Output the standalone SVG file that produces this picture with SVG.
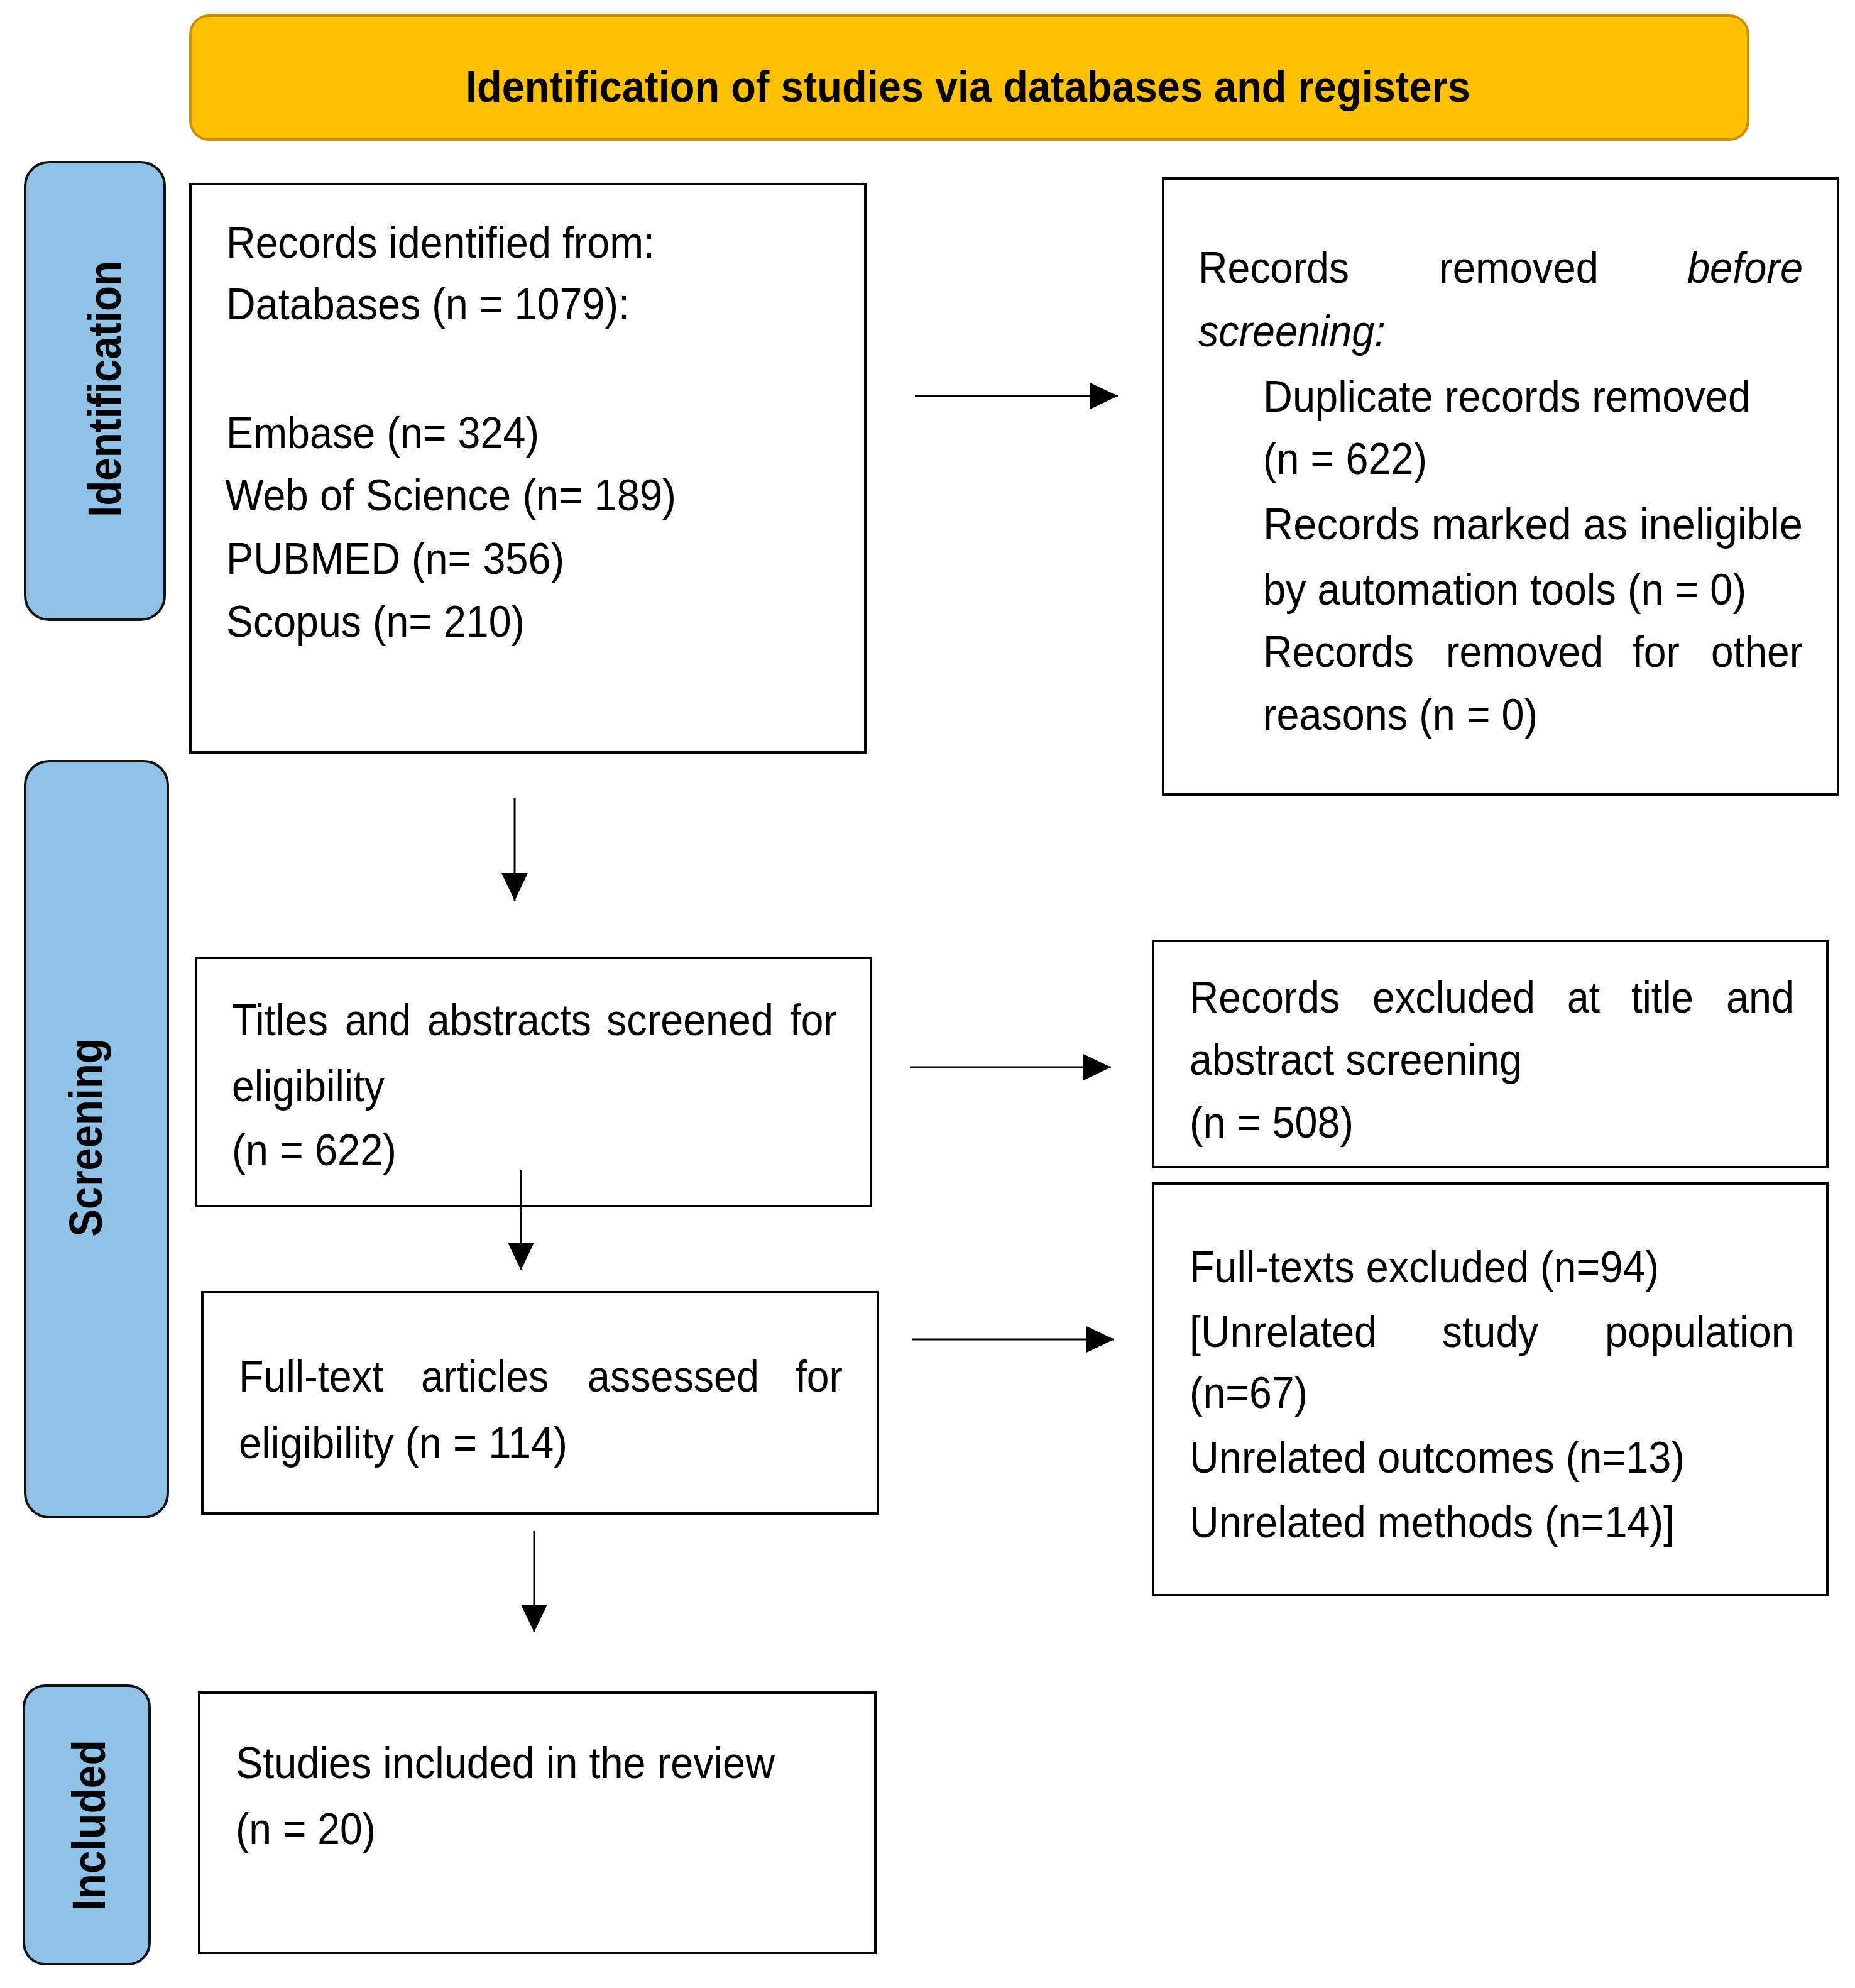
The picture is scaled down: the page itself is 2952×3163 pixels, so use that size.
<svg xmlns="http://www.w3.org/2000/svg" width="2952" height="3163" viewBox="0 0 2952 3163">
<style>
.box{fill:#fff;stroke:#000;stroke-width:4}
.side{fill:#8EC3E7;stroke:#111;stroke-width:4}
.banner{fill:#FFC000;stroke:#CC8E00;stroke-width:4}
text{font-family:"Liberation Sans",Arial,sans-serif;font-size:70px;fill:#000}
.b{font-weight:bold}
.i{font-style:italic}
.lbl{font-weight:bold;font-size:74px}
.conn line{stroke:#000;stroke-width:3;fill:none}
</style>
<defs>
<marker id="ah" markerUnits="userSpaceOnUse" markerWidth="44" markerHeight="42" refX="44" refY="21" orient="auto">
<path d="M0,0 L44,21 L0,42 Z" fill="#000"/>
</marker>
</defs>
<rect width="2952" height="3163" fill="#fff"/>

<g id="banner">
<rect class="banner" x="303" y="25" width="2479" height="197" rx="30"/>
<text class="b" x="741" y="162" textLength="1599" lengthAdjust="spacingAndGlyphs">Identification of studies via databases and registers</text>
</g>

<g id="side-identification">
<rect class="side" x="40" y="258" width="222" height="728" rx="38"/>
<text class="lbl" text-anchor="middle" transform="translate(192,619) rotate(-90)" textLength="408" lengthAdjust="spacingAndGlyphs">Identification</text>
</g>
<g id="side-screening">
<rect class="side" x="40" y="1211" width="227" height="1203" rx="38"/>
<text class="lbl" text-anchor="middle" transform="translate(162,1810) rotate(-90)" textLength="315" lengthAdjust="spacingAndGlyphs">Screening</text>
</g>
<g id="side-included">
<rect class="side" x="38" y="2682" width="200" height="443" rx="34"/>
<text class="lbl" text-anchor="middle" transform="translate(167,2904) rotate(-90)" textLength="272" lengthAdjust="spacingAndGlyphs">Included</text>
</g>

<g id="records-identified">
<rect class="box" x="303" y="293" width="1074" height="904"/>
<text x="360" y="410" textLength="682" lengthAdjust="spacingAndGlyphs">Records identified from:</text>
<text x="360" y="508" textLength="642" lengthAdjust="spacingAndGlyphs">Databases (n = 1079):</text>
<text x="360" y="713" textLength="498" lengthAdjust="spacingAndGlyphs">Embase (n= 324)</text>
<text x="358" y="812" textLength="718" lengthAdjust="spacingAndGlyphs">Web of Science (n= 189)</text>
<text x="360" y="913" textLength="538" lengthAdjust="spacingAndGlyphs">PUBMED (n= 356)</text>
<text x="360" y="1013" textLength="475" lengthAdjust="spacingAndGlyphs">Scopus (n= 210)</text>
</g>

<g id="records-removed">
<rect class="box" x="1851" y="284" width="1074" height="980"/>
<text x="1907" y="450" textLength="240" lengthAdjust="spacingAndGlyphs">Records</text>
<text x="2290" y="450" textLength="254" lengthAdjust="spacingAndGlyphs">removed</text>
<text class="i" x="2685" y="450" textLength="184" lengthAdjust="spacingAndGlyphs">before</text>
<text class="i" x="1907" y="551" textLength="298" lengthAdjust="spacingAndGlyphs">screening:</text>
<text x="2010" y="655" textLength="776" lengthAdjust="spacingAndGlyphs">Duplicate records removed</text>
<text x="2010" y="754" textLength="261" lengthAdjust="spacingAndGlyphs">(n = 622)</text>
<text x="2010" y="858" textLength="859" lengthAdjust="spacingAndGlyphs">Records marked as ineligible</text>
<text x="2010" y="962" textLength="769" lengthAdjust="spacingAndGlyphs">by automation tools (n = 0)</text>
<text x="2010" y="1061" textLength="240" lengthAdjust="spacingAndGlyphs">Records</text>
<text x="2301" y="1061" textLength="250" lengthAdjust="spacingAndGlyphs">removed</text>
<text x="2598" y="1061" textLength="75" lengthAdjust="spacingAndGlyphs">for</text>
<text x="2723" y="1061" textLength="146" lengthAdjust="spacingAndGlyphs">other</text>
<text x="2010" y="1161" textLength="437" lengthAdjust="spacingAndGlyphs">reasons (n = 0)</text>
</g>

<g id="titles-screened">
<rect class="box" x="312" y="1524" width="1074" height="395"/>
<text x="369" y="1647" textLength="153" lengthAdjust="spacingAndGlyphs">Titles</text>
<text x="549" y="1647" textLength="105" lengthAdjust="spacingAndGlyphs">and</text>
<text x="680" y="1647" textLength="261" lengthAdjust="spacingAndGlyphs">abstracts</text>
<text x="965" y="1647" textLength="266" lengthAdjust="spacingAndGlyphs">screened</text>
<text x="1257" y="1647" textLength="75" lengthAdjust="spacingAndGlyphs">for</text>
<text x="369" y="1752" textLength="243" lengthAdjust="spacingAndGlyphs">eligibility</text>
<text x="369" y="1854" textLength="262" lengthAdjust="spacingAndGlyphs">(n = 622)</text>
</g>

<g id="records-excluded">
<rect class="box" x="1835" y="1497" width="1073" height="360"/>
<text x="1893" y="1611" textLength="239" lengthAdjust="spacingAndGlyphs">Records</text>
<text x="2184" y="1611" textLength="259" lengthAdjust="spacingAndGlyphs">excluded</text>
<text x="2494" y="1611" textLength="52" lengthAdjust="spacingAndGlyphs">at</text>
<text x="2596" y="1611" textLength="99" lengthAdjust="spacingAndGlyphs">title</text>
<text x="2747" y="1611" textLength="108" lengthAdjust="spacingAndGlyphs">and</text>
<text x="1893" y="1710" textLength="529" lengthAdjust="spacingAndGlyphs">abstract screening</text>
<text x="1893" y="1810" textLength="261" lengthAdjust="spacingAndGlyphs">(n = 508)</text>
</g>

<g id="fulltext-assessed">
<rect class="box" x="322" y="2056" width="1075" height="352"/>
<text x="380" y="2214" textLength="230" lengthAdjust="spacingAndGlyphs">Full-text</text>
<text x="670" y="2214" textLength="203" lengthAdjust="spacingAndGlyphs">articles</text>
<text x="935" y="2214" textLength="273" lengthAdjust="spacingAndGlyphs">assessed</text>
<text x="1266" y="2214" textLength="75" lengthAdjust="spacingAndGlyphs">for</text>
<text x="380" y="2320" textLength="523" lengthAdjust="spacingAndGlyphs">eligibility (n = 114)</text>
</g>

<g id="fulltext-excluded">
<rect class="box" x="1835" y="1883" width="1073" height="655"/>
<text x="1893" y="2040" textLength="747" lengthAdjust="spacingAndGlyphs">Full-texts excluded (n=94)</text>
<text x="1893" y="2143" textLength="298" lengthAdjust="spacingAndGlyphs">[Unrelated</text>
<text x="2295" y="2143" textLength="153" lengthAdjust="spacingAndGlyphs">study</text>
<text x="2554" y="2143" textLength="301" lengthAdjust="spacingAndGlyphs">population</text>
<text x="1893" y="2240" textLength="188" lengthAdjust="spacingAndGlyphs">(n=67)</text>
<text x="1893" y="2343" textLength="788" lengthAdjust="spacingAndGlyphs">Unrelated outcomes (n=13)</text>
<text x="1893" y="2446" textLength="772" lengthAdjust="spacingAndGlyphs">Unrelated methods (n=14)]</text>
</g>

<g id="studies-included">
<rect class="box" x="317" y="2693" width="1076" height="414"/>
<text x="375" y="2829" textLength="858" lengthAdjust="spacingAndGlyphs">Studies included in the review</text>
<text x="375" y="2934" textLength="223" lengthAdjust="spacingAndGlyphs">(n = 20)</text>
</g>

<g id="connectors" class="conn">
<line x1="1456" y1="630" x2="1779" y2="630" marker-end="url(#ah)"/>
<line x1="819" y1="1270" x2="819" y2="1433" marker-end="url(#ah)"/>
<line x1="1448" y1="1698" x2="1768" y2="1698" marker-end="url(#ah)"/>
<line x1="829" y1="1862" x2="829" y2="2021" marker-end="url(#ah)"/>
<line x1="1452" y1="2131" x2="1773" y2="2131" marker-end="url(#ah)"/>
<line x1="850" y1="2436" x2="850" y2="2597" marker-end="url(#ah)"/>
</g>
</svg>
